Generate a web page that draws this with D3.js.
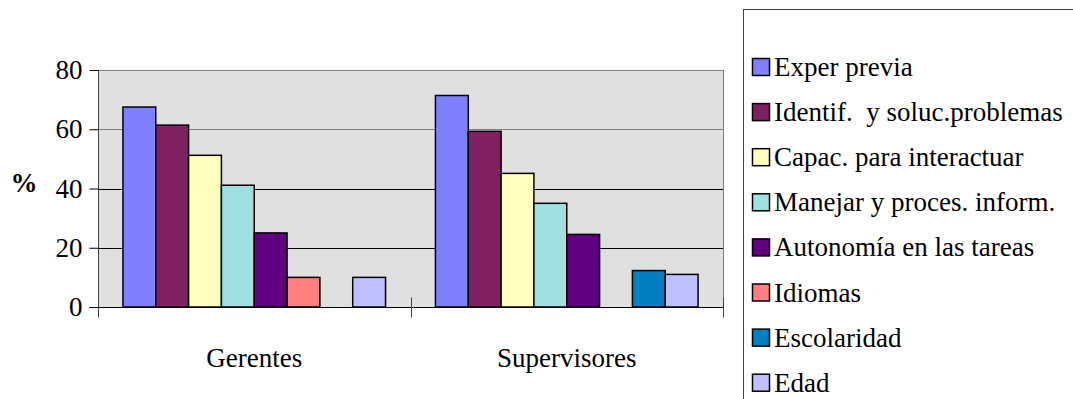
<!DOCTYPE html>
<html>
<head>
<meta charset="utf-8">
<script src="https://cdn.jsdelivr.net/npm/d3@7"></script>
<style>
  html, body { margin: 0; padding: 0; background: #fff; }
</style>
</head>
<body>
<svg id="chart" width="1073" height="399"></svg>
<script>
// Grupos de puestos (eje X)
const categories = ["Gerentes", "Supervisores"];

// Requisitos evaluados (series)
const series = [
  "Exper previa",
  "Identif.  y soluc.problemas",
  "Capac. para interactuar",
  "Manejar y proces. inform.",
  "Autonomía en las tareas",
  "Idiomas",
  "Escolaridad",
  "Edad"
];

// Porcentajes por serie, en el orden de las categorías
const experPrevia   = [67.5, 71.4];
const identifSoluc  = [61.4, 59.3];
const capacInteract = [51.2, 45.1];
const manejarInform = [41.1, 35.0];
const autonomia     = [25.0, 24.5];
const idiomas       = [10.0, 0];
const escolaridad   = [0, 12.3];
const edad          = [10.0, 11.0];

const yTicks = [0, 20, 40, 60, 80];

const colors = ["#8080FF", "#802060", "#FFFFC0", "#A0E0E0", "#600080", "#FF8080", "#0080C0", "#C0C0FF"];

const seriesValues = [experPrevia, identifSoluc, capacInteract, manejarInform, autonomia, idiomas, escolaridad, edad];

const FONT = "'Liberation Serif', 'Times New Roman', serif";

const svg = d3.select("#chart").style("font-family", FONT);

const plot = { left: 98, right: 723, top: 70, bottom: 307 };

const x0 = d3.scaleBand().domain(categories).range([plot.left, plot.right]).paddingInner(0).paddingOuter(0);
const x1 = d3.scaleBand().domain(series).range([0, x0.bandwidth()]).paddingInner(0).paddingOuter(0.76);
const y = d3.scaleLinear().domain([0, 80]).range([plot.bottom, plot.top]);
const color = d3.scaleOrdinal().domain(series).range(colors);

// Fondo del área de trazado
svg.append("rect")
  .attr("x", plot.left).attr("y", plot.top)
  .attr("width", plot.right - plot.left).attr("height", plot.bottom - plot.top)
  .attr("fill", "#E0E0E0");

// Líneas de división horizontales
svg.append("g")
  .selectAll("line")
  .data(yTicks.filter(t => t > 0))
  .join("line")
  .attr("x1", plot.left).attr("x2", plot.right)
  .attr("y1", d => Math.round(y(d)) + 0.5).attr("y2", d => Math.round(y(d)) + 0.5)
  .attr("stroke", d => d >= 60 ? "#808080" : "#000")
  .attr("stroke-width", 1);

// Borde derecho del área de trazado
svg.append("line")
  .attr("x1", plot.right + 0.5).attr("x2", plot.right + 0.5)
  .attr("y1", plot.top).attr("y2", plot.bottom)
  .attr("stroke", "#808080");

// Barras
const rows = categories.map((c, ci) => ({
  category: c,
  values: series.map((s, si) => ({ series: s, value: seriesValues[si][ci] }))
}));

svg.append("g")
  .selectAll("g")
  .data(rows)
  .join("g")
  .attr("transform", d => `translate(${x0(d.category)},0)`)
  .selectAll("rect")
  .data(d => d.values.filter(v => v.value > 0))
  .join("rect")
  .attr("x", d => x1(d.series))
  .attr("y", d => y(d.value))
  .attr("width", x1.bandwidth())
  .attr("height", d => y(0) - y(d.value))
  .attr("fill", d => color(d.series))
  .attr("stroke", "#000")
  .attr("stroke-width", 1.5);

// Eje Y
const yAxis = d3.axisLeft(y).tickValues(yTicks).tickSize(9).tickPadding(7).tickSizeOuter(0);
const gy = svg.append("g")
  .attr("transform", `translate(${plot.left + 0.5},0)`)
  .call(yAxis);
gy.select(".domain").attr("stroke", "#404040").attr("d", `M0,${plot.top}V${plot.bottom + 10}`);
gy.selectAll(".tick line").attr("stroke", "#000");
gy.selectAll(".tick text")
  .style("font-family", FONT)
  .style("font-size", "27px")
  .attr("fill", "#000");

// Eje X
const xAxis = d3.axisBottom(x0).tickSize(0).tickPadding(0);
const gx = svg.append("g")
  .attr("transform", `translate(0,${Math.round(y(0)) + 0.5})`)
  .call(xAxis);
gx.select(".domain").attr("stroke", "#000").attr("d", `M${plot.left - 9},0H${plot.right}`);
gx.selectAll(".tick text")
  .attr("dy", null)
  .attr("y", 59)
  .style("font-family", FONT)
  .style("font-size", "27px")
  .attr("fill", "#000");

// Marcas de separación entre categorías
const boundaries = categories.map(c => x0(c)).concat([x0.range()[1]]);
gx.append("g")
  .selectAll("line")
  .data(boundaries)
  .join("line")
  .attr("x1", d => Math.round(d) + 0.5).attr("x2", d => Math.round(d) + 0.5)
  .attr("y1", (d, i) => i === 0 ? 0 : -10).attr("y2", 10)
  .attr("stroke", "#404040");

// Título del eje Y
svg.append("text")
  .attr("x", 24).attr("y", 183)
  .attr("text-anchor", "middle")
  .attr("dominant-baseline", "central")
  .style("font-family", FONT)
  .style("font-size", "27px")
  .style("font-weight", "bold")
  .text("%");

// Leyenda
const legend = svg.append("g");
legend.append("rect")
  .attr("x", 743.5).attr("y", 9.5)
  .attr("width", 340).attr("height", 400)
  .attr("fill", "#fff")
  .attr("stroke", "#404040");

const item = legend.selectAll("g.item")
  .data(series)
  .join("g")
  .attr("class", "item")
  .attr("transform", (d, i) => `translate(752, ${67 + i * 45.1})`);

item.append("rect")
  .attr("x", 0.5).attr("y", -8.5)
  .attr("width", 17).attr("height", 17)
  .attr("fill", d => color(d))
  .attr("stroke", "#000")
  .attr("stroke-width", 1.5);

item.append("text")
  .attr("x", 22)
  .attr("y", 0)
  .attr("dominant-baseline", "central")
  .style("font-family", FONT)
  .style("font-size", "27px")
  .style("white-space", "pre")
  .text(d => d);
</script>
</body>
</html>
